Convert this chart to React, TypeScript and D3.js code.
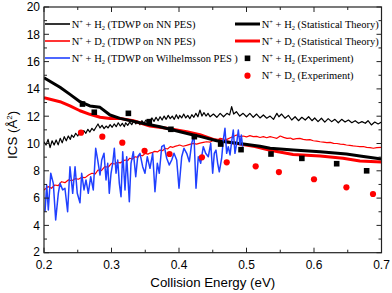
import React from "react";
import * as d3 from "d3";

// ---------- data ----------
const xTicks = [0.2, 0.3, 0.4, 0.5, 0.6, 0.7];
const xMinorTicks = [0.25, 0.35, 0.45, 0.55, 0.65];
const yTicks = [2, 4, 6, 8, 10, 12, 14, 16, 18, 20];
const yMinorTicks = [3, 5, 7, 9, 11, 13, 15, 17, 19];

// N+ + H2 (TDWP on NN PES)
const tdwpH2: [number, number][] = [
  [0.200, 10.13], [0.203, 9.89], [0.206, 10.3], [0.209, 9.7], [0.212, 10.2], [0.215, 9.89],
  [0.218, 10.26], [0.221, 9.9], [0.224, 10.38], [0.227, 10.05], [0.230, 10.5], [0.233, 10.2],
  [0.236, 10.55], [0.239, 10.3], [0.241, 10.62], [0.244, 10.45], [0.247, 10.75], [0.250, 10.55],
  [0.253, 10.84], [0.256, 10.7], [0.259, 10.94], [0.262, 10.75], [0.265, 11.04], [0.268, 10.84],
  [0.271, 11.11], [0.274, 10.94], [0.277, 11.19], [0.280, 11.43], [0.283, 11.14], [0.286, 11.33],
  [0.289, 11.09], [0.292, 11.28], [0.295, 11.14], [0.298, 11.38], [0.301, 11.19], [0.304, 11.43],
  [0.307, 11.23], [0.310, 11.52], [0.313, 11.28], [0.316, 11.48], [0.319, 11.23], [0.321, 11.52],
  [0.324, 11.33], [0.327, 11.57], [0.330, 11.38], [0.333, 11.67], [0.336, 11.43], [0.339, 11.62],
  [0.342, 11.38], [0.345, 11.67], [0.348, 11.48], [0.351, 11.72], [0.354, 11.48], [0.357, 11.67],
  [0.360, 11.87], [0.363, 11.62], [0.366, 11.92], [0.369, 11.67], [0.372, 11.96], [0.375, 11.72],
  [0.378, 12.01], [0.381, 11.77], [0.384, 12.06], [0.387, 11.82], [0.390, 12.01], [0.393, 11.77],
  [0.396, 12.11], [0.399, 11.82], [0.401, 12.06], [0.404, 11.87], [0.407, 12.16], [0.410, 11.87],
  [0.413, 12.06], [0.416, 11.82], [0.419, 12.11], [0.422, 11.92], [0.425, 12.21], [0.428, 11.96],
  [0.431, 12.45], [0.434, 12.01], [0.437, 12.26], [0.440, 12.01], [0.443, 12.21], [0.446, 11.96],
  [0.451, 12.16], [0.456, 11.92], [0.461, 12.21], [0.466, 11.96], [0.471, 12.21], [0.475, 12.09],
  [0.478, 12.7], [0.481, 12.16], [0.485, 12.33], [0.490, 12.01], [0.495, 12.21], [0.500, 11.96],
  [0.505, 12.21], [0.510, 11.92], [0.515, 12.16], [0.520, 11.87], [0.525, 12.09], [0.530, 11.85],
  [0.535, 12.01], [0.540, 11.77], [0.545, 12.21], [0.548, 11.96], [0.552, 12.16], [0.557, 11.85],
  [0.562, 12.06], [0.567, 11.72], [0.572, 11.96], [0.577, 11.67], [0.582, 11.92], [0.587, 11.72],
  [0.592, 11.96], [0.597, 11.67], [0.601, 11.87], [0.606, 11.6], [0.611, 11.85], [0.616, 11.57],
  [0.621, 11.82], [0.626, 11.6], [0.631, 11.77], [0.636, 11.52], [0.641, 11.77], [0.646, 11.57],
  [0.651, 11.72], [0.656, 11.52], [0.661, 11.67], [0.666, 11.48], [0.671, 11.6], [0.676, 11.48],
  [0.680, 11.67], [0.685, 11.36], [0.690, 11.57], [0.695, 11.43], [0.700, 11.57],
];

// N+ + D2 (TDWP on NN PES)
const tdwpD2: [number, number][] = [
  [0.200, 6.59], [0.206, 6.84], [0.211, 6.72], [0.216, 6.96], [0.221, 6.91], [0.226, 7.2],
  [0.231, 7.13], [0.236, 7.33], [0.241, 7.27], [0.246, 7.42], [0.251, 7.38], [0.256, 7.52],
  [0.261, 7.5], [0.266, 7.69], [0.271, 7.82], [0.276, 7.78], [0.280, 8.06], [0.285, 8.02],
  [0.290, 8.3], [0.295, 8.26], [0.300, 8.55], [0.305, 8.5], [0.309, 8.62], [0.313, 8.58],
  [0.320, 8.79], [0.324, 8.74], [0.327, 8.92], [0.331, 8.86], [0.335, 9.03], [0.339, 8.98],
  [0.342, 9.16], [0.346, 9.1], [0.350, 9.28], [0.354, 9.22], [0.357, 9.3], [0.361, 9.35],
  [0.364, 9.42], [0.368, 9.38], [0.372, 9.52], [0.376, 9.48], [0.379, 9.65], [0.383, 9.6],
  [0.387, 9.77], [0.391, 9.72], [0.394, 9.79], [0.398, 9.84], [0.401, 9.89], [0.406, 9.8],
  [0.411, 9.86], [0.416, 9.94], [0.421, 10.01], [0.426, 9.95], [0.431, 10.03], [0.436, 10.08],
  [0.441, 10.13], [0.446, 10.1], [0.451, 10.26], [0.456, 10.2], [0.461, 10.38], [0.466, 10.32],
  [0.471, 10.3], [0.476, 10.42], [0.480, 10.5], [0.485, 10.62], [0.490, 10.5], [0.495, 10.55],
  [0.500, 10.48], [0.505, 10.58], [0.510, 10.5], [0.515, 10.52], [0.520, 10.44], [0.525, 10.5],
  [0.530, 10.42], [0.535, 10.5], [0.540, 10.44], [0.545, 10.38], [0.550, 10.55], [0.555, 10.45],
  [0.560, 10.38], [0.565, 10.4], [0.569, 10.3], [0.574, 10.36], [0.579, 10.38], [0.584, 10.3],
  [0.589, 10.26], [0.594, 10.28], [0.599, 10.2], [0.604, 10.18], [0.609, 10.13], [0.614, 10.1],
  [0.619, 10.06], [0.624, 10.08], [0.629, 10.01], [0.634, 10.0], [0.639, 9.96], [0.644, 9.94],
  [0.648, 9.89], [0.653, 9.86], [0.658, 9.82], [0.663, 9.8], [0.668, 9.77], [0.673, 9.78],
  [0.678, 9.72], [0.683, 9.7], [0.688, 9.65], [0.693, 9.7], [0.700, 9.72],
];

// N+ + H2 (TDWP on Wilhelmsson PES)
const tdwpWil: [number, number][] = [
  [0.2015, 5.0], [0.204, 6.96], [0.2064, 5.13], [0.21, 7.82], [0.2138, 7.08], [0.2173, 4.4],
  [0.2212, 6.35], [0.2237, 7.08], [0.2277, 6.6], [0.231, 6.72], [0.235, 5.0], [0.2385, 8.3],
  [0.2425, 6.35], [0.246, 8.3], [0.2493, 6.35], [0.2533, 5.66], [0.2558, 7.82], [0.2593, 6.6],
  [0.2622, 7.33], [0.2656, 6.35], [0.2692, 7.57], [0.273, 6.6], [0.2766, 9.65], [0.2796, 8.79],
  [0.283, 7.69], [0.2855, 8.79], [0.2889, 9.28], [0.2919, 7.33], [0.2944, 8.55], [0.2967, 6.35],
  [0.2993, 7.82], [0.3018, 8.55], [0.3042, 9.65], [0.3067, 7.82], [0.3092, 8.79], [0.3116, 7.08],
  [0.3141, 6.1], [0.3166, 9.4], [0.32, 6.6], [0.3225, 9.03], [0.3264, 5.74], [0.3289, 8.55],
  [0.3323, 9.4], [0.3359, 7.57], [0.3388, 9.03], [0.3422, 9.28], [0.3462, 8.3], [0.3496, 7.82],
  [0.353, 9.03], [0.357, 8.18], [0.361, 9.28], [0.3644, 6.47], [0.3679, 8.55], [0.3708, 7.82],
  [0.3744, 9.77], [0.3778, 9.89], [0.3818, 8.92], [0.3856, 8.43], [0.3892, 8.79], [0.3926, 9.28],
  [0.3966, 8.79], [0.4, 6.72], [0.404, 9.03], [0.4074, 9.65], [0.4114, 9.28], [0.4153, 8.67],
  [0.4188, 10.01], [0.4222, 10.62], [0.4252, 6.72], [0.4286, 9.03], [0.4321, 8.55], [0.436, 9.77],
  [0.4395, 9.28], [0.4434, 9.03], [0.447, 10.01], [0.4499, 7.82], [0.4523, 9.28], [0.4548, 9.52],
  [0.4573, 8.55], [0.4597, 7.93], [0.4632, 8.92], [0.4656, 10.26], [0.4681, 11.11], [0.4706, 9.28],
  [0.473, 9.77], [0.4756, 9.16], [0.478, 10.13], [0.4804, 10.99], [0.4829, 9.28], [0.4854, 10.01],
  [0.4879, 10.99], [0.4904, 9.89], [0.4923, 10.62], [0.4943, 9.77],
];

// N+ + H2 (Statistical Theory)
const statH2: [number, number][] = [
  [0.2, 14.82], [0.2237, 14.12], [0.2385, 13.6], [0.2533, 13.06], [0.268, 12.75], [0.283, 12.65],
  [0.2978, 12.09], [0.3126, 11.84], [0.342, 11.52], [0.3719, 11.23], [0.3867, 11.04],
  [0.4015, 10.86], [0.4212, 10.62], [0.431, 10.52], [0.4558, 10.2], [0.4953, 9.96], [0.52, 9.8],
  [0.535, 9.65], [0.5694, 9.52], [0.609, 9.4], [0.648, 9.23], [0.668, 9.08], [0.7, 8.87],
];

// N+ + D2 (Statistical Theory)
const statD2: [number, number][] = [
  [0.2, 13.36], [0.2237, 13.06], [0.2385, 12.75], [0.2533, 12.4], [0.268, 12.14], [0.283, 11.92],
  [0.2978, 11.84], [0.3126, 11.84], [0.3323, 11.67], [0.357, 11.28], [0.3818, 11.11],
  [0.4114, 10.86], [0.431, 10.65], [0.4508, 10.3], [0.4706, 10.13], [0.5126, 9.77], [0.535, 9.5],
  [0.569, 9.2], [0.609, 9.08], [0.643, 8.92], [0.668, 8.72], [0.7, 8.65],
];

// N+ + H2 (Experiment)
const expH2: [number, number][] = [
  [0.257, 12.89], [0.2745, 12.29], [0.325, 12.21], [0.356, 11.6], [0.388, 11.04], [0.4227, 10.5],
  [0.4617, 9.96], [0.4919, 9.55], [0.5363, 9.23], [0.582, 8.91], [0.6336, 8.52], [0.678, 8.0],
];

// N+ + D2 (Experiment)
const expD2: [number, number][] = [
  [0.2548, 10.79], [0.2864, 10.5], [0.316, 10.06], [0.349, 9.47], [0.386, 9.23], [0.434, 8.99],
  [0.4707, 8.62], [0.5136, 8.33], [0.548, 7.91], [0.6, 7.38], [0.648, 6.79], [0.6874, 6.3],
];

const xLabel = "Collision Energy (eV)";

// ---------- layout ----------
const W = 392;
const H = 293;
const L = 44;
const R = 381.5;
const T = 7;
const B = 252.7;

const RED = "#ff0000";
const BLUE = "#2040ff";

function Reaction({ x, y, ion, sub, rest }: { x: number; y: number; ion: string; sub: string; rest: string }) {
  return (
    <text x={x} y={y} fontFamily="'Liberation Serif', 'Times New Roman', serif" fontSize={10.5} fill="#000">
      {ion}
      <tspan dy={-4} fontSize={6.5}>+</tspan>
      <tspan dy={4}> + {sub}</tspan>
      <tspan dy={2.5} fontSize={6.5}>2</tspan>
      <tspan dy={-2.5}> {rest}</tspan>
    </text>
  );
}

export default function App() {
  const x = d3.scaleLinear().domain([0.2, 0.7]).range([L, R]);
  const y = d3.scaleLinear().domain([2, 20]).range([B, T]);
  const line = d3
    .line<[number, number]>()
    .x((d) => x(d[0]))
    .y((d) => y(d[1]));

  const axisFont = "'Liberation Sans', Arial, sans-serif";

  return (
    <svg width={W} height={H} style={{ position: "absolute", left: 0, top: 0 }}>
      <rect x={0} y={0} width={W} height={H} fill="#fff" />
      <defs>
        <clipPath id="plot">
          <rect x={L} y={T} width={R - L} height={B - T} />
        </clipPath>
      </defs>

      <g clipPath="url(#plot)">
        <path d={line(tdwpH2) || ""} fill="none" stroke="#000" strokeWidth={1.2} strokeLinejoin="round" />
        <path d={line(tdwpD2) || ""} fill="none" stroke={RED} strokeWidth={1.2} strokeLinejoin="round" />
        <path d={line(statD2) || ""} fill="none" stroke={RED} strokeWidth={3} strokeLinejoin="round" />
        <path d={line(statH2) || ""} fill="none" stroke="#000" strokeWidth={3} strokeLinejoin="round" />
        <path d={line(tdwpWil) || ""} fill="none" stroke={BLUE} strokeWidth={1.5} strokeLinejoin="round" />
        {expH2.map((d, i) => (
          <rect key={"s" + i} x={x(d[0]) - 2.8} y={y(d[1]) - 2.8} width={5.6} height={5.6} fill="#000" />
        ))}
        {expD2.map((d, i) => (
          <circle key={"c" + i} cx={x(d[0])} cy={y(d[1])} r={3.1} fill={RED} />
        ))}
      </g>

      {/* frame */}
      <rect x={L} y={T} width={R - L} height={B - T} fill="none" stroke="#222" strokeWidth={1.2} />

      {/* x ticks */}
      {xTicks.map((t) => (
        <g key={"xt" + t}>
          <line x1={x(t)} x2={x(t)} y1={B} y2={B - 5} stroke="#222" />
          <line x1={x(t)} x2={x(t)} y1={T} y2={T + 5} stroke="#222" />
          <text x={x(t)} y={B + 16} textAnchor="middle" fontFamily={axisFont} fontSize={12} fill="#000">
            {t.toFixed(1)}
          </text>
        </g>
      ))}
      {xMinorTicks.map((t) => (
        <g key={"xm" + t}>
          <line x1={x(t)} x2={x(t)} y1={B} y2={B - 3} stroke="#222" />
          <line x1={x(t)} x2={x(t)} y1={T} y2={T + 3} stroke="#222" />
        </g>
      ))}
      {/* y ticks */}
      {yTicks.map((t) => (
        <g key={"yt" + t}>
          <line x1={L} x2={L + 5} y1={y(t)} y2={y(t)} stroke="#222" />
          <line x1={R} x2={R - 5} y1={y(t)} y2={y(t)} stroke="#222" />
          <text x={L - 4} y={y(t) + (t === 2 ? 3 : 4.3)} textAnchor="end" fontFamily={axisFont} fontSize={12} fill="#000">
            {t}
          </text>
        </g>
      ))}
      {yMinorTicks.map((t) => (
        <g key={"ym" + t}>
          <line x1={L} x2={L + 3} y1={y(t)} y2={y(t)} stroke="#222" />
          <line x1={R} x2={R - 3} y1={y(t)} y2={y(t)} stroke="#222" />
        </g>
      ))}

      {/* axis titles */}
      <text x={(L + R) / 2} y={287} textAnchor="middle" fontFamily={axisFont} fontSize={13.3} fill="#000">
        {xLabel}
      </text>
      <text
        transform={`translate(17, ${(T + B) / 2 + 5}) rotate(-90)`}
        textAnchor="middle"
        fontFamily={axisFont}
        fontSize={13.3}
        fill="#000"
      >
        ICS (Å<tspan dy={-5} fontSize={8}>2</tspan>
        <tspan dy={5}>)</tspan>
      </text>

      {/* legend left column */}
      <line x1={45} x2={70} y1={24} y2={24} stroke="#000" strokeWidth={1.6} />
      <Reaction x={71.7} y={27.7} ion="N" sub="H" rest="(TDWP on NN PES)" />
      <line x1={45} x2={70} y1={41} y2={41} stroke={RED} strokeWidth={1.6} />
      <Reaction x={71.7} y={44.7} ion="N" sub="D" rest="(TDWP on NN PES)" />
      <line x1={45} x2={70} y1={58} y2={58} stroke={BLUE} strokeWidth={1.6} />
      <Reaction x={71.7} y={61.7} ion="N" sub="H" rest="(TDWP on Wilhelmsson PES )" />

      {/* legend right column */}
      <line x1={235} x2={260} y1={24} y2={24} stroke="#000" strokeWidth={3} />
      <Reaction x={261.7} y={27.7} ion="N" sub="H" rest="(Statistical Theory)" />
      <line x1={235} x2={260} y1={41} y2={41} stroke={RED} strokeWidth={3} />
      <Reaction x={261.7} y={44.7} ion="N" sub="D" rest="(Statistical Theory)" />
      <rect x={247.5 - 2.8} y={58.3 - 2.8} width={5.6} height={5.6} fill="#000" />
      <Reaction x={261.7} y={61.7} ion="N" sub="H" rest="(Experiment)" />
      <circle cx={247.5} cy={75.7} r={3.1} fill={RED} />
      <Reaction x={261.7} y={79.4} ion="N" sub="D" rest="(Experiment)" />
    </svg>
  );
}
